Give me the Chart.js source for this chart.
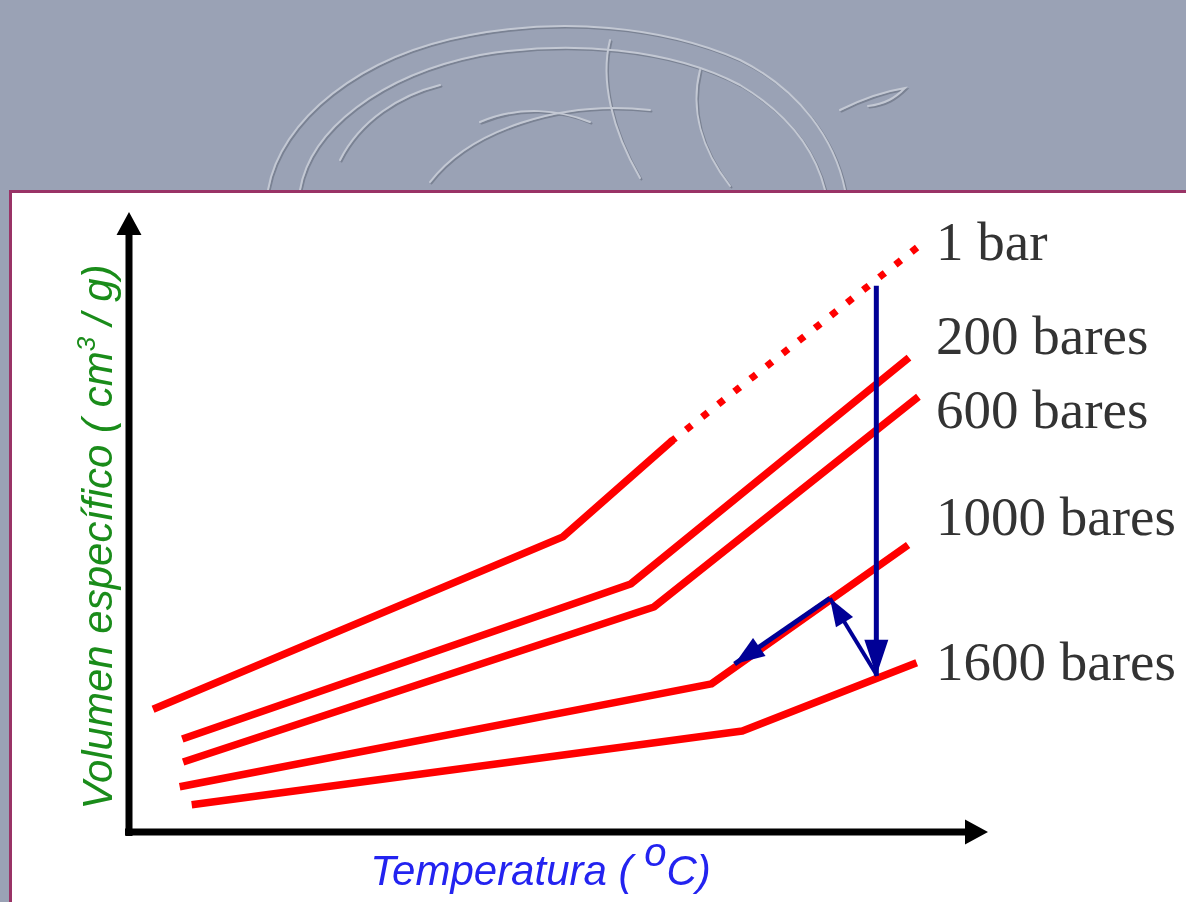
<!DOCTYPE html>
<html>
<head>
<meta charset="utf-8">
<script src="https://cdn.jsdelivr.net/npm/chart.js@4.4.1/dist/chart.umd.min.js"></script>
<style>
  html, body { margin: 0; padding: 0; }
  body { width: 1186px; height: 902px; overflow: hidden; background: #9aa2b5; position: relative; }
  #deco { position: absolute; left: 0; top: 0; }
  #panel { position: absolute; left: 9px; top: 190px; width: 1200px; height: 760px; background: #fff; border: 3px solid #993366; }
  #wrap { position: absolute; left: 0; top: 0; width: 1186px; height: 902px; }
</style>
</head>
<body>
<svg id="deco" width="1186" height="190" viewBox="0 0 1186 190">
  <g fill="none" stroke-width="2" stroke-linecap="round">
    <g stroke="#7a8293" transform="translate(1.5,1.5)">
      <path d="M268,190 C280,120 360,55 470,35 C560,18 660,25 740,60 C800,90 835,140 845,190"/>
      <path d="M300,190 C310,130 380,75 480,55 C570,40 670,48 740,85 C790,115 815,150 825,190"/>
      <path d="M430,182 C470,130 560,100 650,110"/>
      <path d="M610,40 C600,80 612,130 640,178"/>
      <path d="M700,70 C690,110 702,150 730,186"/>
      <path d="M480,122 C520,105 560,110 590,122"/>
      <path d="M340,160 C360,120 400,95 440,85"/>
      <path d="M840,110 C860,100 880,92 905,88 C895,98 885,104 868,106"/>
    </g>
    <g stroke="#c3c8d3">
      <path d="M268,190 C280,120 360,55 470,35 C560,18 660,25 740,60 C800,90 835,140 845,190"/>
      <path d="M300,190 C310,130 380,75 480,55 C570,40 670,48 740,85 C790,115 815,150 825,190"/>
      <path d="M430,182 C470,130 560,100 650,110"/>
      <path d="M610,40 C600,80 612,130 640,178"/>
      <path d="M700,70 C690,110 702,150 730,186"/>
      <path d="M480,122 C520,105 560,110 590,122"/>
      <path d="M340,160 C360,120 400,95 440,85"/>
      <path d="M840,110 C860,100 880,92 905,88 C895,98 885,104 868,106"/>
    </g>
  </g>
</svg>
<div id="panel"></div>
<div id="wrap"><canvas id="chart" width="1186" height="902"></canvas></div>
<script>
/* global Chart */
(function () {
  "use strict";

  // isobaras: temperatura (u. arb.) vs volumen específico (u. arb.)
  const seriesLabels = ["1 bar", "200 bares", "600 bares", "1000 bares", "1600 bares"];
  const temp1 = [2.8, 50.5, 63.3, 91.5];
  const vol1 = [19.8, 47.6, 63.2, 94.0];
  const temp200 = [6.2, 58.4, 90.8];
  const vol200 = [15.0, 40.0, 76.5];
  const temp600 = [6.3, 61.1, 91.9];
  const vol600 = [11.3, 36.3, 70.2];
  const temp1000 = [5.9, 67.8, 90.7];
  const vol1000 = [7.3, 23.9, 46.3];
  const temp1600 = [7.3, 71.4, 91.7];
  const vol1600 = [4.4, 16.3, 27.3];

  // flechas azules
  const arrowDownT = [87.0, 87.0];
  const arrowDownV = [88.1, 25.2];
  const arrowAlongT = [81.6, 70.5];
  const arrowAlongV = [37.7, 27.1];
  const arrowUpT = [87.1, 81.6];
  const arrowUpV = [25.2, 37.7];

  const RED = "#ff0000";
  const BLUE = "#000096";

  const pts = (xs, ys) => xs.map((x, i) => ({ x, y: ys[i] }));

  function isobar(label, xs, ys, dy, extra) {
    return Object.assign({
      label,
      data: pts(xs, ys),
      borderColor: RED,
      borderWidth: 7.5,
      borderCapStyle: "butt",
      borderJoinStyle: "round",
      pointRadius: 0,
      tension: 0,
      fill: false,
      order: 2,
      endLabel: { dy },
    }, extra || {});
  }

  function arrow(xs, ys, width, head) {
    return {
      label: "",
      data: pts(xs, ys),
      borderColor: BLUE,
      borderWidth: width,
      borderCapStyle: "butt",
      pointRadius: 0,
      tension: 0,
      fill: false,
      order: 1,
      arrowHead: head,
    };
  }

  const datasets = [
    isobar(seriesLabels[0], temp1, vol1, 11, {
      segment: {
        borderDash: (c) => (c.p0DataIndex >= 2 ? [0.1, 20.4] : undefined),
        borderCapStyle: (c) => (c.p0DataIndex >= 2 ? "square" : undefined),
        borderWidth: (c) => (c.p0DataIndex >= 2 ? 7 : undefined),
      },
    }),
    isobar(seriesLabels[1], temp200, vol200, -4),
    isobar(seriesLabels[2], temp600, vol600, 31),
    isobar(seriesLabels[3], temp1000, vol1000, -10),
    isobar(seriesLabels[4], temp1600, vol1600, 17),
    arrow(arrowDownT, arrowDownV, 5, { len: 36, width: 24 }),
    arrow(arrowAlongT, arrowAlongV, 5, { len: 30, width: 22 }),
    arrow(arrowUpT, arrowUpV, 4, { len: 28, width: 20 }),
  ];

  const axesPlugin = {
    id: "arrowAxes",
    beforeDatasetsDraw(chart) {
      const { ctx, chartArea: a } = chart;
      ctx.save();
      ctx.fillStyle = "#000";
      ctx.strokeStyle = "#000";
      ctx.lineWidth = 7;
      ctx.beginPath();
      ctx.moveTo(a.left, a.bottom + 4);
      ctx.lineTo(a.left, a.top + 18);
      ctx.moveTo(a.left - 4, a.bottom);
      ctx.lineTo(a.right - 18, a.bottom);
      ctx.stroke();
      ctx.beginPath();
      ctx.moveTo(a.left, a.top);
      ctx.lineTo(a.left - 12.5, a.top + 23);
      ctx.lineTo(a.left + 12.5, a.top + 23);
      ctx.closePath();
      ctx.moveTo(a.right, a.bottom);
      ctx.lineTo(a.right - 23, a.bottom - 12.5);
      ctx.lineTo(a.right - 23, a.bottom + 12.5);
      ctx.closePath();
      ctx.fill();
      ctx.restore();
    },
  };

  const headsPlugin = {
    id: "arrowHeads",
    afterDatasetsDraw(chart) {
      const ctx = chart.ctx;
      chart.data.datasets.forEach((ds, i) => {
        if (!ds.arrowHead) return;
        const el = chart.getDatasetMeta(i).data;
        const p = el[el.length - 2];
        const q = el[el.length - 1];
        const ang = Math.atan2(q.y - p.y, q.x - p.x);
        const h = ds.arrowHead;
        ctx.save();
        ctx.translate(q.x, q.y);
        ctx.rotate(ang);
        ctx.fillStyle = ds.borderColor;
        ctx.beginPath();
        ctx.moveTo(0, 0);
        ctx.lineTo(-h.len, h.width / 2);
        ctx.lineTo(-h.len, -h.width / 2);
        ctx.closePath();
        ctx.fill();
        ctx.restore();
      });
    },
  };

  const labelsPlugin = {
    id: "endLabels",
    afterDatasetsDraw(chart) {
      const { ctx, chartArea: a } = chart;
      ctx.save();
      ctx.font = "55px 'Liberation Serif', 'Times New Roman', serif";
      ctx.fillStyle = "#333333";
      ctx.textBaseline = "alphabetic";
      chart.data.datasets.forEach((ds, i) => {
        if (!ds.endLabel) return;
        const el = chart.getDatasetMeta(i).data;
        const last = el[el.length - 1];
        ctx.fillText(ds.label, a.right - 52, last.y + ds.endLabel.dy);
      });
      ctx.restore();
    },
  };

  // text with superscript pieces, drawn left to right from (0,0) baseline
  function richWidth(ctx, parts, size, family) {
    let w = 0;
    parts.forEach((p) => {
      ctx.font = `italic ${p.sup ? Math.round(size * p.sup) : size}px ${family}`;
      w += ctx.measureText(p.t).width;
    });
    return w;
  }

  function drawRich(ctx, parts, size, family) {
    let x = 0;
    parts.forEach((p) => {
      ctx.font = `italic ${p.sup ? Math.round(size * p.sup) : size}px ${family}`;
      ctx.fillText(p.t, x, p.rise ? -p.rise : 0);
      x += ctx.measureText(p.t).width;
    });
  }

  const titlesPlugin = {
    id: "axisTitles",
    afterDraw(chart) {
      const { ctx, chartArea: a } = chart;
      const fam = "'Liberation Sans', Arial, sans-serif";
      const size = 42;
      ctx.save();
      ctx.textBaseline = "alphabetic";

      const xParts = [
        { t: "Temperatura ( " },
        { t: "o", sup: 0.95, rise: 19 },
        { t: "C)" },
      ];
      const xw = richWidth(ctx, xParts, size, fam);
      ctx.fillStyle = "#2323f0";
      ctx.save();
      ctx.translate((a.left + a.right) / 2 - 18 - xw / 2, a.bottom + 53);
      drawRich(ctx, xParts, size, fam);
      ctx.restore();

      const yParts = [
        { t: "Volumen específico ( cm" },
        { t: "3", sup: 0.62, rise: 17 },
        { t: " / g)" },
      ];
      const yw = richWidth(ctx, yParts, size, fam);
      ctx.fillStyle = "#1a8c1a";
      ctx.save();
      ctx.translate(a.left - 17, (a.top + a.bottom) / 2 + 15 + yw / 2);
      ctx.rotate(-Math.PI / 2);
      drawRich(ctx, yParts, size, fam);
      ctx.restore();

      ctx.restore();
    },
  };

  const ctx = document.getElementById("chart").getContext("2d");
  new Chart(ctx, {
    type: "line",
    data: { datasets },
    options: {
      responsive: false,
      animation: false,
      devicePixelRatio: 1,
      layout: { padding: { left: 129, right: 198, top: 212, bottom: 70 } },
      scales: {
        x: { type: "linear", min: 0, max: 100, display: false },
        y: { type: "linear", min: 0, max: 100, display: false },
      },
      plugins: {
        legend: { display: false },
        tooltip: { enabled: false },
      },
      events: [],
    },
    plugins: [axesPlugin, headsPlugin, labelsPlugin, titlesPlugin],
  });
})();
</script>
</body>
</html>
